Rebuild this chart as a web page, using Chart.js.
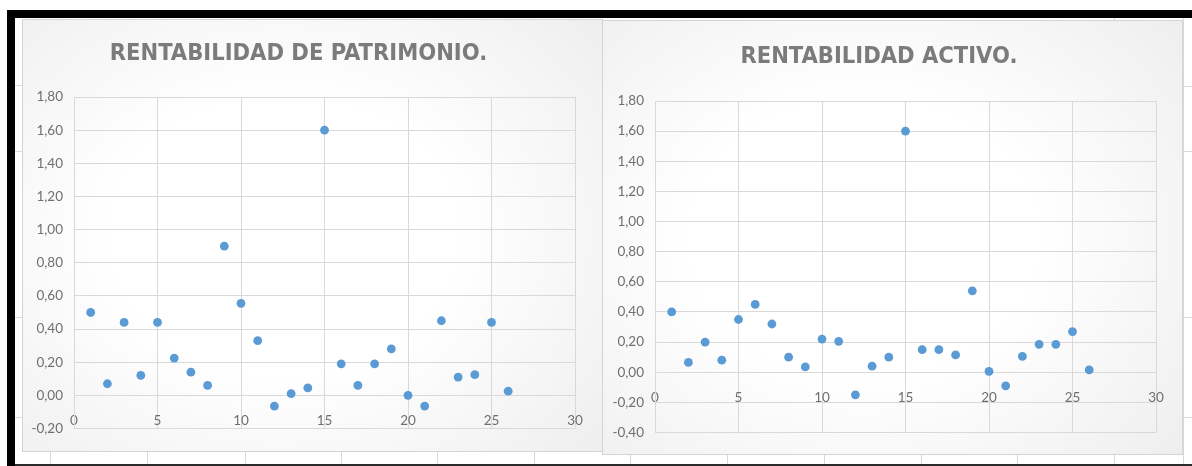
<!DOCTYPE html>
<html>
<head>
<meta charset="utf-8">
<script src="https://cdn.jsdelivr.net/npm/chart.js@4.4.0/dist/chart.umd.min.js"></script>
<style>
  html, body { margin:0; padding:0; width:1192px; height:466px; overflow:hidden; background:#fff; }
  #page { position:absolute; left:0; top:0; width:1192px; height:466px; background:#fff; }
  .gl { position:absolute; background:#d9d9d9; }
  .blk { position:absolute; background:#000; }
  .frame { position:absolute; box-sizing:border-box; border:1px solid #d4d4d4;
           background: radial-gradient(ellipse 75% 80% at 45% 50%, #ffffff 40%, #ededed 100%); }
  .frame canvas { position:absolute; left:-1px; top:-1px; }
</style>
</head>
<body>
<div id="page">
  <!-- spreadsheet grid behind the charts -->
  <div class="gl" style="left:15px;top:85px;width:8px;height:1px"></div>
  <div class="gl" style="left:15px;top:151px;width:8px;height:1px"></div>
  <div class="gl" style="left:15px;top:317px;width:8px;height:1px"></div>
  <div class="gl" style="left:15px;top:417px;width:8px;height:1px"></div>
  <div class="gl" style="left:1183px;top:86px;width:9px;height:1px"></div>
  <div class="gl" style="left:1183px;top:151px;width:9px;height:1px"></div>
  <div class="gl" style="left:1183px;top:317px;width:9px;height:1px"></div>
  <div class="gl" style="left:1183px;top:417px;width:9px;height:1px"></div>
  <div class="gl" style="left:1183px;top:18px;width:1px;height:448px"></div>
  <div class="gl" style="left:50px;top:450px;width:1px;height:16px"></div>
  <div class="gl" style="left:147px;top:450px;width:1px;height:16px"></div>
  <div class="gl" style="left:245px;top:450px;width:1px;height:16px"></div>
  <div class="gl" style="left:341px;top:450px;width:1px;height:16px"></div>
  <div class="gl" style="left:437px;top:450px;width:1px;height:16px"></div>
  <div class="gl" style="left:534px;top:450px;width:1px;height:16px"></div>
  <div class="gl" style="left:630px;top:450px;width:1px;height:16px"></div>
  <div class="gl" style="left:727px;top:450px;width:1px;height:16px"></div>
  <div class="gl" style="left:824px;top:450px;width:1px;height:16px"></div>
  <div class="gl" style="left:921px;top:450px;width:1px;height:16px"></div>
  <div class="gl" style="left:1017px;top:450px;width:1px;height:16px"></div>
  <div class="gl" style="left:1114px;top:450px;width:1px;height:16px"></div>
  <div class="gl" style="left:1114px;top:18px;width:1px;height:3px"></div>
  <div class="blk" style="left:7px;top:10px;width:1185px;height:8px"></div>
  <div class="blk" style="left:7px;top:10px;width:8px;height:456px"></div>
  <div class="blk" style="left:15px;top:464px;width:1177px;height:2px;background:#2b2b2b"></div>

  <div class="frame" style="left:22px;top:19px;width:581px;height:433px">
    <canvas id="c1" width="581" height="433" style="width:581px;height:433px"></canvas>
  </div>
  <div class="frame" style="left:602px;top:20px;width:581px;height:435px">
    <canvas id="c2" width="581" height="435" style="width:581px;height:435px"></canvas>
  </div>
</div>
<script>
// ---- data ----
const periods = [1,2,3,4,5,6,7,8,9,10,11,12,13,14,15,16,17,18,19,20,21,22,23,24,25,26];
const rentabilidadPatrimonio = [0.50,0.07,0.44,0.12,0.44,0.225,0.14,0.06,0.90,0.555,0.33,-0.065,0.01,0.045,
                                1.60,0.19,0.06,0.19,0.28,0.00,-0.065,0.45,0.11,0.125,0.44,0.025];
const rentabilidadActivo = [0.40,0.065,0.20,0.08,0.35,0.45,0.32,0.10,0.035,0.22,0.205,-0.15,0.04,0.10,
                            1.60,0.15,0.15,0.115,0.54,0.005,-0.09,0.105,0.185,0.185,0.27,0.015];
const xTickLabels = ['0','5','10','15','20','25','30'];
const yTickLabelsPatrimonio = ['-0,20','0,00','0,20','0,40','0,60','0,80','1,00','1,20','1,40','1,60','1,80'];
const yTickLabelsActivo = ['-0,40','-0,20','0,00','0,20','0,40','0,60','0,80','1,00','1,20','1,40','1,60','1,80'];
const titlePatrimonio = 'RENTABILIDAD DE PATRIMONIO.';
const titleActivo = 'RENTABILIDAD ACTIVO.';

const TICK_FONT = { family: "Lato, 'Liberation Sans Narrow', sans-serif", size: 13.5 };
const TITLE_FONT = { family: "'DejaVu Sans Condensed', 'Liberation Sans Narrow', sans-serif", size: 23.5, weight: 'bold', lineHeight: 1.2 };
const GRID = '#d9d9d9';
const TICK_COLOR = '#6f6f6f';

function makeChart(id, title, values, yLabels, yMin, opts) {
  const pts = periods.map((p, i) => ({ x: p, y: values[i] }));
  return new Chart(document.getElementById(id), {
    type: 'scatter',
    data: { datasets: [{ data: pts, backgroundColor: '#5b9bd5', borderWidth: 0, pointRadius: 4.4, pointHoverRadius: 4.4 }] },
    options: {
      responsive: false, animation: false, devicePixelRatio: 1,
      layout: { padding: { left: 0, right: opts.padRight, top: 0, bottom: opts.padBottom } },
      plugins: {
        legend: { display: false }, tooltip: { enabled: false },
        title: { display: true, text: title, color: '#7b7b7b', font: TITLE_FONT,
                 padding: { top: opts.titleTop, bottom: opts.titleBottom } }
      },
      scales: {
        x: {
          type: 'linear', min: 0, max: 30, position: { y: 0 },
          afterFit: s => { s.height = 0; },
          grid: { color: GRID, drawTicks: false, lineWidth: 1 },
          border: { color: GRID, width: 1 },
          ticks: { stepSize: 5, padding: 17, color: TICK_COLOR, font: TICK_FONT, maxRotation: 0,
                   callback: (v, i) => xTickLabels[i] }
        },
        y: {
          type: 'linear', min: yMin, max: 1.8,
          afterFit: s => { s.width = opts.axisWidth; },
          grid: { color: GRID, drawTicks: false, lineWidth: 1 },
          border: { color: GRID, width: 1 },
          ticks: { stepSize: 0.2, padding: 11, color: TICK_COLOR, font: TICK_FONT,
                   callback: (v, i) => yLabels[i] }
        }
      }
    }
  });
}

makeChart('c1', titlePatrimonio, rentabilidadPatrimonio, yTickLabelsPatrimonio, -0.2,
  { padRight: 28, padBottom: 23.5, axisWidth: 52, titleTop: 20.5, titleBottom: 29.3 });
makeChart('c2', titleActivo, rentabilidadActivo, yTickLabelsActivo, -0.4,
  { padRight: 27, padBottom: 22.5, axisWidth: 53, titleTop: 23, titleBottom: 29.8 });
</script>
</body>
</html>
